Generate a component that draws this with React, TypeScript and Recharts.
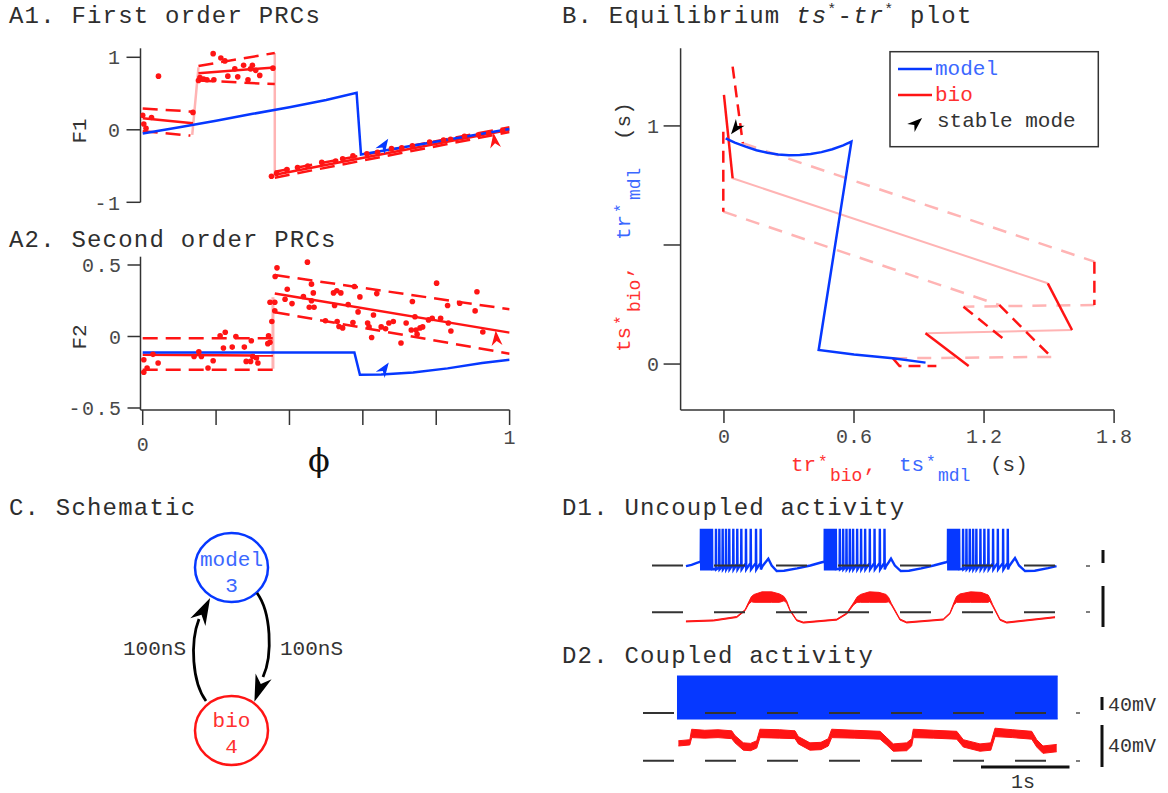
import React from "react";
import { Area, ComposedChart, Line, Scatter, XAxis, YAxis } from "recharts";

const W = 1168;
const H = 793;
const MONO = '"Liberation Mono", "DejaVu Sans Mono", monospace';
const BLUE = "#0638ff";
const BLUE_TEXT = "#3b68ff";
const RED = "#ff1414";
const RED_TEXT = "#ff3030";
const PINK = "#ffb4b4";
const INK = "#333";
const TICK = "#484848";
const DASH = "15 8";

type Pt = [number, number];

// ---------- A1: first order PRC (phase, F1) ----------
const a1Model: Pt[] = [[0, -0.05], [0.1, 0.035], [0.2, 0.125], [0.3, 0.22], [0.4, 0.31], [0.5, 0.41], [0.583, 0.51], [0.595, -0.34], [1, 0.01]];
const a1BioFit: Pt[][] = [[[0, 0.16], [0.137, 0.09]], [[0.152, 0.78], [0.36, 0.86]], [[0.36, -0.62], [1, 0.0]]];
const a1BioUpper: Pt[][] = [[[0, 0.295], [0.137, 0.25]], [[0.152, 0.88], [0.36, 1.06]], [[0.36, -0.58], [1, 0.035]]];
const a1BioLower: Pt[][] = [[[0, -0.02], [0.13, -0.08]], [[0.152, 0.68], [0.36, 0.63]], [[0.36, -0.66], [1, -0.03]]];
const a1BioJumps: Pt[][] = [[[0.135, -0.07], [0.152, 0.86]], [[0.36, 1.06], [0.36, -0.64]]];
const a1BioPoints: Pt[] = [
  [0, 0.2], [0.003, 0.08], [0.009, 0.02], [0.024, 0.17], [0.043, 0.74], [0.137, 0.24],
  [0.152, 0.68], [0.156, 0.72], [0.166, 0.7], [0.175, 0.69], [0.194, 0.69], [0.192, 1.05], [0.213, 0.99],
  [0.224, 0.95], [0.232, 0.74], [0.251, 0.84], [0.259, 0.73], [0.275, 0.89], [0.287, 0.69], [0.294, 0.84],
  [0.299, 0.89], [0.308, 0.82], [0.319, 0.75], [0.355, 0.85],
  [0.351, -0.64], [0.365, -0.6], [0.393, -0.55], [0.422, -0.52], [0.45, -0.5], [0.488, -0.45], [0.526, -0.43],
  [0.545, -0.4], [0.573, -0.36], [0.611, -0.33], [0.64, -0.31], [0.678, -0.26], [0.706, -0.25], [0.735, -0.22],
  [0.782, -0.17], [0.82, -0.14], [0.839, -0.13], [0.877, -0.09], [0.915, -0.07], [0.943, -0.05], [0.981, -0.01],
];
const a1StableModel: Pt[] = [[0.658, -0.21]];
const a1StableBio: Pt[] = [[0.959, -0.145]];

// ---------- A2: second order PRC (phase, F2) ----------
const a2Model: Pt[] = [[0, -0.112], [0.577, -0.112], [0.592, -0.268], [0.65, -0.265], [0.737, -0.252], [0.831, -0.223], [0.925, -0.185], [1, -0.163]];
const a2BioFit: Pt[][] = [[[0, -0.128], [0.355, -0.133]], [[0.36, 0.3], [1, 0.027]]];
const a2BioUpper: Pt[][] = [[[0, -0.013], [0.355, -0.013]], [[0.36, 0.43], [1, 0.19]]];
const a2BioLower: Pt[][] = [[[0, -0.232], [0.355, -0.232]], [[0.36, 0.17], [1, -0.12]]];
const a2BioJumps: Pt[][] = [[[0.355, -0.225], [0.355, 0.275]]];
const a2BioPoints: Pt[] = [
  [0.003, -0.163], [0.003, -0.25], [0.012, -0.22], [0.028, -0.125], [0.042, -0.185], [0.14, -0.14], [0.153, -0.107],
  [0.16, -0.14], [0.178, -0.22], [0.192, -0.17], [0.211, 0.005], [0.225, 0.03], [0.22, -0.08], [0.244, -0.074],
  [0.254, 0.0], [0.277, -0.074], [0.296, -0.03], [0.282, -0.174], [0.294, -0.174], [0.31, -0.15], [0.314, -0.185],
  [0.3, -0.14], [0.343, 0.005], [0.347, -0.04], [0.341, -0.05], [0.352, 0.105], [0.347, 0.24], [0.36, 0.18],
  [0.36, 0.24], [0.361, 0.42], [0.366, 0.48],
  [0.388, 0.26], [0.394, 0.33], [0.407, 0.23], [0.438, 0.28], [0.449, 0.52], [0.454, 0.205], [0.46, 0.366],
  [0.46, 0.25], [0.465, 0.305], [0.467, 0.205], [0.498, 0.11], [0.52, 0.305], [0.523, 0.217], [0.529, 0.32],
  [0.54, 0.305], [0.53, 0.105], [0.535, 0.07], [0.545, 0.06], [0.56, 0.223], [0.573, 0.098], [0.577, 0.35],
  [0.587, 0.172], [0.592, 0.277], [0.613, 0.094], [0.617, 0.067], [0.624, -0.007], [0.629, 0.15], [0.638, 0.3],
  [0.65, 0.067], [0.662, 0.054], [0.671, 0.094], [0.683, 0.105], [0.704, -0.045], [0.718, 0.094], [0.732, 0.045],
  [0.735, 0.245], [0.742, 0.138], [0.745, 0.045], [0.748, 0.016], [0.756, 0.06], [0.763, 0.067], [0.779, 0.116],
  [0.789, 0.127], [0.801, 0.373], [0.812, 0.127], [0.831, 0.217], [0.833, 0.094], [0.84, 0.038], [0.864, 0.232],
  [0.906, 0.179], [0.911, 0.313], [0.927, 0.031],
];
const a2StableModel: Pt[] = [[0.659, -0.225]];
const a2StableBio: Pt[] = [[0.964, -0.01]];

// ---------- B: equilibrium ts*-tr* (s) ----------
const bModel: Pt[] = [
  [0.008, 0.948], [0.05, 0.93], [0.1, 0.913], [0.15, 0.898], [0.2, 0.887], [0.25, 0.88], [0.3, 0.877],
  [0.35, 0.878], [0.4, 0.882], [0.45, 0.89], [0.5, 0.902], [0.55, 0.918], [0.588, 0.934],
  [0.437, 0.059], [0.6, 0.04], [0.779, 0.024], [0.93, 0.006],
];
const bBioFit: Pt[][] = [[[0, 1.13], [0.04, 0.78]], [[1.494, 0.339], [1.606, 0.143]], [[0.93, 0.129], [1.129, -0.008]]];
const bBioFitJumps: Pt[][] = [[[0.04, 0.78], [1.494, 0.339]], [[1.606, 0.143], [0.93, 0.129]]];
const bBioUpper: Pt[][] = [[[0.04, 1.249], [0.087, 0.927]], [[1.709, 0.43], [1.709, 0.248]], [[1.105, 0.241], [1.29, 0.105]]];
const bBioUpperJumps: Pt[][] = [[[0.087, 0.927], [1.709, 0.43]], [[1.709, 0.248], [1.105, 0.241]]];
const bBioLower: Pt[][] = [[[-0.003, 0.976], [-0.003, 0.64]], [[1.27, 0.248], [1.51, 0.03]], [[0.78, 0.024], [0.81, -0.008], [0.98, -0.008]]];
const bBioLowerJumps: Pt[][] = [[[-0.003, 0.64], [1.27, 0.248]], [[1.51, 0.03], [0.78, 0.024]]];
const bStable: Pt[] = [[0.054, 0.99]];

// ---------- D: membrane potential traces (s, mV) ----------
const blueBurstOnsets = [0.556, 1.963, 3.364];
const blueSpikeOffsets = [0, 0.018, 0.036, 0.054, 0.072, 0.09, 0.108, 0.126, 0.171, 0.209, 0.247, 0.285, 0.322, 0.368, 0.413, 0.459, 0.512, 0.566, 0.626, 0.679];
const blueSpikePre = [-38, -62, -62, -62, -62, -62, -62, -62, -60, -56, -52, -50, -48, -46, -45, -44, -43, -42, -42, -42];
const blueSpikePeak = 63;
const blueSpikeTrough = -62;
const blueWave: Pt[] = [
  [0.386, -52], [0.45, -48], [0.51, -42], [0.55, -38],
  [1.255, -52], [1.29, -40], [1.322, -29], [1.36, -50], [1.417, -67], [1.5, -66], [1.65, -59], [1.8, -50], [1.93, -40],
  [2.66, -52], [2.69, -40], [2.716, -29], [2.76, -50], [2.827, -67], [2.92, -66], [3.06, -59], [3.2, -50], [3.34, -40],
  [4.06, -52], [4.09, -40], [4.125, -27], [4.17, -50], [4.239, -67], [4.35, -66], [4.5, -58], [4.597, -52],
];
// [t, low, high]
const redUncoupled: [number, number, number][] = [
  [0.386, -59.2, -58.2], [0.7, -58.3, -57.3], [0.963, -55.0, -54.0], [1.057, -48.6, -47.6], [1.1, -42, -40],
  [1.13, -40, -35], [1.16, -40.5, -33], [1.25, -40.5, -30.5], [1.36, -40.5, -30.5], [1.45, -40.5, -32.5],
  [1.5, -39, -35], [1.53, -41, -39], [1.568, -48.6, -47.6], [1.644, -58.1, -57.1], [1.719, -60.3, -59.3],
  [2.099, -57.5, -56.5], [2.213, -51.7, -50.7], [2.29, -43, -41], [2.33, -40.5, -35.5], [2.37, -40.5, -33],
  [2.47, -40.5, -30.5], [2.58, -40.5, -31], [2.66, -40.5, -33], [2.69, -40, -36], [2.72, -43, -41.5],
  [2.818, -57.4, -56.4], [2.894, -60.2, -59.2], [3.31, -57.4, -56.4], [3.386, -51.5, -50.5], [3.43, -43, -41],
  [3.46, -40.5, -35], [3.5, -40.5, -32.5], [3.62, -40.5, -30.5], [3.74, -40.5, -31], [3.82, -40.5, -33.5],
  [3.84, -39.5, -36.5], [3.87, -44, -42.5], [3.955, -57.6, -56.6], [4.031, -60.3, -59.3], [4.58, -55.2, -54.2],
];
const blueCoupled: [number, number, number][] = [[0.284, -68.5, 63.8], [4.61, -68.5, 63.8]];
const redCoupled: [number, number, number][] = [
  [0.3, -36, -31], [0.43, -35, -30], [0.451, -28, -20], [0.6, -28.5, -21], [0.75, -28, -20.5], [0.906, -29, -21.5],
  [0.943, -33, -26], [1.038, -40, -33], [1.12, -40.5, -33.5], [1.19, -38, -31], [1.227, -28, -20], [1.45, -28.5, -20.5],
  [1.625, -29, -21.5], [1.663, -34, -27], [1.795, -40, -33], [1.92, -39.5, -32.5], [2.003, -36, -29], [2.042, -28, -20],
  [2.3, -28.5, -21], [2.591, -29.5, -22], [2.667, -35, -28], [2.742, -41, -34], [2.894, -40.5, -33], [2.951, -36, -29],
  [2.969, -28, -20], [3.2, -28.5, -21], [3.463, -29.5, -22], [3.538, -37, -30], [3.727, -41, -34], [3.85, -40, -33],
  [3.898, -27, -19], [4.1, -28, -20.5], [4.315, -29.5, -22], [4.372, -37, -30], [4.443, -43, -36], [4.599, -41.5, -34.5],
];
const restLevel = -50;
const d1RestSpan: Pt = [0, 4.59];
const d2RestSpan: Pt = [-0.102, 4.5];

// ---------- helpers ----------
const xy = (pts: Pt[]) => pts.map(([x, y]) => ({ x, y }));
const band = (rows: [number, number, number][]) => rows.map(([x, lo, hi]) => ({ x, r: [lo, hi] }));
const rest = ([a, b]: Pt) => [{ x: a, y: restLevel }, { x: b, y: restLevel }];

const blueTrace = (() => {
  const pts = xy(blueWave);
  blueBurstOnsets.forEach((onset) => {
    blueSpikeOffsets.forEach((off, i) => {
      const t = onset + off;
      pts.push({ x: t - 0.002, y: blueSpikePre[i] }, { x: t, y: blueSpikePeak }, { x: t + 0.003, y: blueSpikeTrough });
    });
  });
  return pts.sort((a, b) => a.x - b.x);
})();

function dartPoints(cx: number, cy: number, angle: number, len = 15, half = 5.5) {
  const a = (angle * Math.PI) / 180;
  const c = Math.cos(a);
  const s = Math.sin(a);
  return [[0, -len / 2], [half, len / 2], [0, len / 5], [-half, len / 2]]
    .map(([x, y]) => `${(cx + x * c - y * s).toFixed(1)},${(cy + x * s + y * c).toFixed(1)}`)
    .join(" ");
}
const dart = (color: string, angle: number) => (p: any) => <polygon points={dartPoints(p.cx, p.cy, angle)} fill={color} />;
const dot = (p: any) => <circle cx={p.cx} cy={p.cy} r={2.8} fill={RED} />;

// plot rectangle in page pixels -> chart margins
const frame = (x0: number, x1: number, y0: number, y1: number, yw = 0, xh = 0) => ({
  left: x0 - yw,
  right: W - x1,
  top: y0,
  bottom: H - y1 - xh,
});

const axisStyle = { stroke: "#333", strokeWidth: 1.5 };

const seg = (key: string, pts: Pt[], stroke: string, width: number, dash?: string) => (
  <Line
    key={key}
    data={xy(pts)}
    dataKey="y"
    type="linear"
    stroke={stroke}
    strokeWidth={width}
    strokeDasharray={dash}
    dot={false}
    activeDot={false}
    isAnimationActive={false}
  />
);

const aYTick = (p: any) => (
  <text x={p.x - 3} y={p.y} dy="0.36em" textAnchor="end" fontFamily={MONO} fontSize={20} fill={TICK} letterSpacing={1.5}>
    {p.payload.value}
  </text>
);
const a2XTick = (p: any) => {
  const v = p.payload.value;
  if (v !== 0 && v !== 1) return <g />;
  return (
    <text x={p.x} y={v === 0 ? 451 : 444} textAnchor="middle" fontFamily={MONO} fontSize={20} fill={TICK}>
      {v}
    </text>
  );
};
const bXTick = (p: any) => (
  <text x={p.x} y={443} textAnchor="middle" fontFamily={MONO} fontSize={20} fill={TICK}>
    {p.payload.value}
  </text>
);
const bYTick = (p: any) => {
  const v = p.payload.value;
  if (v !== 0 && v !== 1) return <g />;
  return (
    <text x={659} y={p.y} dy="0.36em" textAnchor="end" fontFamily={MONO} fontSize={20} fill={TICK}>
      {v}
    </text>
  );
};

const Layer = ({ children }: { children: React.ReactNode }) => (
  <div style={{ position: "absolute", left: 0, top: 0, width: W, height: H }}>{children}</div>
);

function PanelA1() {
  return (
    <ComposedChart width={W} height={H} margin={frame(140.5, 509.6, 48.3, 202.3, 60)}>
      <XAxis type="number" dataKey="x" domain={[-0.006, 1]} allowDataOverflow hide />
      <YAxis type="number" dataKey="y" domain={[-1, 1.124]} allowDataOverflow width={60} ticks={[-1, 0, 1]} interval={0}
        tickSize={14} tick={aYTick} axisLine={axisStyle} tickLine={axisStyle} />
      {a1BioJumps.map((s, i) => seg(`j${i}`, s, PINK, 2.5))}
      {a1BioUpper.map((s, i) => seg(`u${i}`, s, RED, 2.5, DASH))}
      {a1BioLower.map((s, i) => seg(`l${i}`, s, RED, 2.5, DASH))}
      {a1BioFit.map((s, i) => seg(`f${i}`, s, RED, 2.5))}
      <Scatter data={xy(a1BioPoints)} dataKey="y" shape={dot} isAnimationActive={false} />
      {seg("model", a1Model, BLUE, 2.5)}
      <Scatter data={xy(a1StableModel)} dataKey="y" shape={dart(BLUE, 33)} isAnimationActive={false} />
      <Scatter data={xy(a1StableBio)} dataKey="y" shape={dart(RED, -8)} isAnimationActive={false} />
    </ComposedChart>
  );
}

function PanelA2() {
  return (
    <ComposedChart width={W} height={H} margin={frame(140.5, 509.6, 256.7, 410, 60, 40)}>
      <XAxis type="number" dataKey="x" domain={[-0.006, 1]} allowDataOverflow height={40} ticks={[0, 0.2, 0.4, 0.6, 0.8, 1]}
        interval={0} tickSize={15} tick={a2XTick} axisLine={axisStyle} tickLine={axisStyle} />
      <YAxis type="number" dataKey="y" domain={[-0.514, 0.558]} allowDataOverflow width={60} ticks={[-0.5, 0, 0.5]} interval={0}
        tickSize={13} tick={aYTick} axisLine={axisStyle} tickLine={axisStyle} />
      {a2BioJumps.map((s, i) => seg(`j${i}`, s, PINK, 3))}
      {a2BioUpper.map((s, i) => seg(`u${i}`, s, RED, 2.5, DASH))}
      {a2BioLower.map((s, i) => seg(`l${i}`, s, RED, 2.5, DASH))}
      {a2BioFit.map((s, i) => seg(`f${i}`, s, RED, 2.5))}
      <Scatter data={xy(a2BioPoints)} dataKey="y" shape={dot} isAnimationActive={false} />
      {seg("model", a2Model, BLUE, 2.5)}
      <Scatter data={xy(a2StableModel)} dataKey="y" shape={dart(BLUE, 35)} isAnimationActive={false} />
      <Scatter data={xy(a2StableBio)} dataKey="y" shape={dart(RED, -5)} isAnimationActive={false} />
    </ComposedChart>
  );
}

function PanelB() {
  return (
    <ComposedChart width={W} height={H} margin={frame(680.6, 1114.1, 48.3, 410, 60, 40)}>
      <XAxis type="number" dataKey="x" domain={[-0.2, 1.8]} allowDataOverflow height={40} ticks={[0, 0.6, 1.2, 1.8]}
        interval={0} tickSize={13} tick={bXTick} axisLine={axisStyle} tickLine={axisStyle} />
      <YAxis type="number" dataKey="y" domain={[-0.193, 1.326]} allowDataOverflow width={60} ticks={[0, 0.5, 1]} interval={0}
        tickSize={17} tick={bYTick} axisLine={axisStyle} tickLine={axisStyle} />
      {bBioUpperJumps.map((s, i) => seg(`uj${i}`, s, PINK, 2.5, "14 10"))}
      {bBioLowerJumps.map((s, i) => seg(`lj${i}`, s, PINK, 2.5, "14 10"))}
      {bBioFitJumps.map((s, i) => seg(`fj${i}`, s, PINK, 2))}
      {bBioUpper.map((s, i) => seg(`u${i}`, s, RED, 2.5, "12 7"))}
      {bBioLower.map((s, i) => seg(`l${i}`, s, RED, 2.5, "12 7"))}
      {bBioFit.map((s, i) => seg(`f${i}`, s, RED, 2.5))}
      {seg("model", bModel, BLUE, 2.5)}
      <Scatter data={xy(bStable)} dataKey="y" shape={dart("#000", 218)} isAnimationActive={false} />
    </ComposedChart>
  );
}

function Trace({ y0, y1, domain, children }: { y0: number; y1: number; domain: [number, number]; children: React.ReactNode }) {
  return (
    <ComposedChart width={W} height={H} margin={frame(634.4, 1065.6, y0, y1)}>
      <XAxis type="number" dataKey="x" domain={[-0.2, 4.7]} allowDataOverflow hide />
      <YAxis type="number" domain={domain} allowDataOverflow hide />
      {children}
    </ComposedChart>
  );
}

const restLine = (span: Pt) => (
  <Line data={rest(span)} dataKey="y" stroke="#333" strokeWidth={2} strokeDasharray="31 31" dot={false}
    activeDot={false} isAnimationActive={false} />
);

function T({ x, y, size = 20, fill = INK, anchor = "start", ls = 0, children, ...rest }: any) {
  return (
    <text x={x} y={y} fontSize={size} fill={fill} textAnchor={anchor} fontFamily={MONO} letterSpacing={ls} {...rest}>
      {children}
    </text>
  );
}

const TITLE = { size: 24, ls: 1.2, fill: "#2e2e2e" };

function Overlay() {
  return (
    <svg width={W} height={H} style={{ position: "absolute", left: 0, top: 0 }}>
      {/* panel titles */}
      <T x={9} y={23} {...TITLE}>A1. First order PRCs</T>
      <T x={9} y={247} {...TITLE}>A2. Second order PRCs</T>
      <T x={562} y={23} {...TITLE}>
        B. Equilibrium <tspan fontStyle="italic">ts</tspan>
        <tspan fontSize={15} dy={-9}>*</tspan>
        <tspan dy={9}>-</tspan>
        <tspan fontStyle="italic">tr</tspan>
        <tspan fontSize={15} dy={-9}>*</tspan>
        <tspan dy={9}> plot</tspan>
      </T>
      <T x={9} y={515} {...TITLE}>C. Schematic</T>
      <T x={562} y={515} {...TITLE}>D1. Uncoupled activity</T>
      <T x={562} y={663} {...TITLE}>D2. Coupled activity</T>

      {/* A axis labels */}
      <T x={0} y={0} size={21} transform="translate(86,131) rotate(-90)" anchor="middle">F1</T>
      <T x={0} y={0} size={21} transform="translate(86,337) rotate(-90)" anchor="middle">F2</T>
      <text x={319} y={471} fontSize={32} fontFamily='"DejaVu Serif", serif' textAnchor="middle" fill="#111">ϕ</text>

      {/* B axis labels */}
      <text fontFamily={MONO} fontSize={21}>
        <tspan x={791} y={471} fill={RED_TEXT}>tr</tspan>
        <tspan x={818} y={467} fill={RED_TEXT} fontSize={16}>*</tspan>
        <tspan x={830} y={481} fill={RED_TEXT} fontSize={18}>bio</tspan>
        <tspan x={864} y={471} fill={RED_TEXT}>,</tspan>
        <tspan x={899} y={471} fill={BLUE_TEXT}>ts</tspan>
        <tspan x={926} y={467} fill={BLUE_TEXT} fontSize={16}>*</tspan>
        <tspan x={938} y={481} fill={BLUE_TEXT} fontSize={18}>mdl</tspan>
        <tspan x={990} y={471} fill={INK}>(s)</tspan>
      </text>
      <g transform="translate(630,352) rotate(-90)">
        <text fontFamily={MONO} fontSize={21}>
          <tspan x={0} y={0} fill={RED_TEXT}>ts</tspan>
          <tspan x={27} y={-4} fill={RED_TEXT} fontSize={16}>*</tspan>
          <tspan x={40} y={10} fill={RED_TEXT} fontSize={18}>bio</tspan>
          <tspan x={74} y={0} fill={RED_TEXT}>,</tspan>
          <tspan x={112} y={0} fill={BLUE_TEXT}>tr</tspan>
          <tspan x={139} y={-4} fill={BLUE_TEXT} fontSize={16}>*</tspan>
          <tspan x={152} y={10} fill={BLUE_TEXT} fontSize={18}>mdl</tspan>
          <tspan x={212} y={0} fill={INK}>(s)</tspan>
        </text>
      </g>

      {/* B legend */}
      <rect x={890} y={51.7} width={208.3} height={95} fill="#fff" stroke="#333" strokeWidth={1.5} />
      <line x1={898} y1={69} x2={932} y2={69} stroke={BLUE} strokeWidth={2.5} />
      <T x={935} y={75} size={21} fill={BLUE_TEXT}>model</T>
      <line x1={898} y1={95} x2={932} y2={95} stroke={RED} strokeWidth={2.5} />
      <T x={935} y={101} size={21} fill={RED_TEXT}>bio</T>
      <polygon points={dartPoints(916.5, 123, 48)} fill="#000" />
      <T x={937} y={127} size={21} fill="#333">stable mode</T>

      {/* C schematic */}
      <ellipse cx={231.5} cy={567.5} rx={36.5} ry={34.5} fill="none" stroke={BLUE} strokeWidth={2.5} />
      <ellipse cx={231.5} cy={730.5} rx={36.5} ry={34.5} fill="none" stroke={RED} strokeWidth={2.5} />
      <T x={231.5} y={566} size={21} anchor="middle" fill={BLUE_TEXT}>model</T>
      <T x={231.5} y={592} size={21} anchor="middle" fill={BLUE_TEXT}>3</T>
      <T x={231.5} y={727} size={21} anchor="middle" fill={RED_TEXT}>bio</T>
      <T x={231.5} y={753} size={21} anchor="middle" fill={RED_TEXT}>4</T>
      <path d="M206,701 C192,682 190,642 199,619" fill="none" stroke="#000" strokeWidth={2.8} />
      <polygon points={dartPoints(204, 610, 27, 27, 8.5)} fill="#000" />
      <path d="M257,593 C271,612 273,655 263,677" fill="none" stroke="#000" strokeWidth={2.8} />
      <polygon points={dartPoints(259, 689, 200, 27, 8.5)} fill="#000" />
      <T x={123} y={655} size={21} fill="#333">100nS</T>
      <T x={280} y={655} size={21} fill="#333">100nS</T>

      {/* D tick marks and scale bars */}
      <line x1={1086} y1={566} x2={1090} y2={566} stroke="#555" strokeWidth={1.5} />
      <line x1={1086} y1={612} x2={1090} y2={612} stroke="#555" strokeWidth={1.5} />
      <line x1={1076} y1={713} x2={1080} y2={713} stroke="#555" strokeWidth={1.5} />
      <line x1={1076} y1={761} x2={1080} y2={761} stroke="#555" strokeWidth={1.5} />
      <line x1={1103} y1={550} x2={1103} y2={563} stroke="#111" strokeWidth={3} />
      <line x1={1103} y1={586} x2={1103} y2={627} stroke="#111" strokeWidth={3} />
      <line x1={1102} y1={697} x2={1102} y2={710} stroke="#111" strokeWidth={3} />
      <line x1={1102} y1={725} x2={1102} y2={767} stroke="#111" strokeWidth={3} />
      <T x={1108} y={711} size={20} fill="#333">40mV</T>
      <T x={1108} y={752} size={20} fill="#333">40mV</T>
      <line x1={981} y1={767} x2={1069.5} y2={767} stroke="#111" strokeWidth={3} />
      <T x={1023} y={788} size={20} anchor="middle" fill="#333">1s</T>
    </svg>
  );
}

export default function App() {
  return (
    <div style={{ position: "absolute", left: 0, top: 0, width: W, height: H, background: "#fff", overflow: "hidden" }}>
      <Layer><PanelA1 /></Layer>
      <Layer><PanelA2 /></Layer>
      <Layer><PanelB /></Layer>
      <Layer>
        <Trace y0={520} y1={580} domain={[-94.6, 90]}>
          <Line data={blueTrace} dataKey="y" type="linear" stroke={BLUE} strokeWidth={2.4} dot={false} activeDot={false} isAnimationActive={false} />
          {restLine(d1RestSpan)}
        </Trace>
      </Layer>
      <Layer>
        <Trace y0={580} y1={630} domain={[-66.9, -19.2]}>
          <Area data={band(redUncoupled)} dataKey="r" type="linear" stroke={RED} strokeWidth={1} fill={RED} fillOpacity={1}
            dot={false} activeDot={false} isAnimationActive={false} />
          {restLine(d1RestSpan)}
        </Trace>
      </Layer>
      <Layer>
        <Trace y0={670} y1={725} domain={[-86.9, 82.3]}>
          <Area data={band(blueCoupled)} dataKey="r" type="linear" stroke={BLUE} strokeWidth={1} fill={BLUE} fillOpacity={1}
            dot={false} activeDot={false} isAnimationActive={false} />
          {restLine(d2RestSpan)}
        </Trace>
      </Layer>
      <Layer>
        <Trace y0={720} y1={770} domain={[-58.9, -11.2]}>
          <Area data={band(redCoupled)} dataKey="r" type="linear" stroke={RED} strokeWidth={1} fill={RED} fillOpacity={1}
            dot={false} activeDot={false} isAnimationActive={false} />
          {restLine(d2RestSpan)}
        </Trace>
      </Layer>
      <Overlay />
    </div>
  );
}
